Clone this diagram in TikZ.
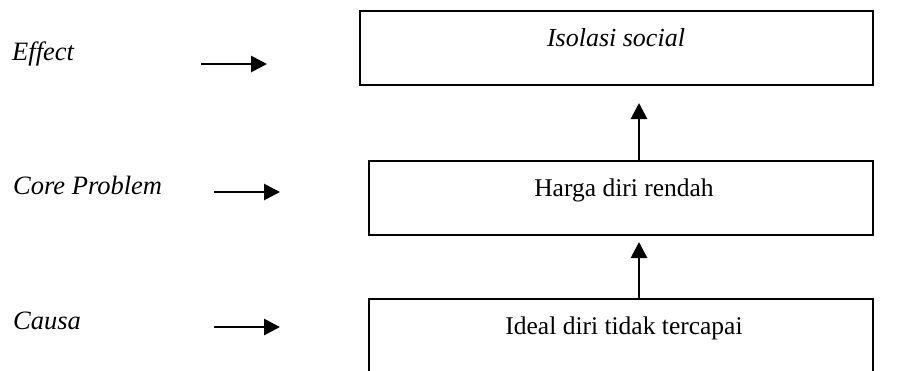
\documentclass[tikz,border=0pt]{standalone}
\usepackage{fontspec}
\setmainfont{Liberation Serif}
\usetikzlibrary{arrows.meta}
\begin{document}
\begin{tikzpicture}[x=1pt,y=-1pt,
  txt/.style={inner sep=0pt,anchor=base,font=\fontsize{25.5}{30}\selectfont},
  lbl/.style={inner sep=0pt,anchor=base west,font=\fontsize{26.5}{31}\selectfont\itshape},
  boxframe/.style={draw,line width=1.4pt},
  arr/.style={line width=2.8pt,-{Triangle[length=16pt,width=16pt]}}]
\useasboundingbox (0,0) rectangle (898,370);
% boxes
\node[boxframe,minimum width=513pt,minimum height=74pt,inner sep=0pt] (top) at (616.5,48) {};
\node[boxframe,minimum width=504pt,minimum height=74pt,inner sep=0pt] (mid) at (621,198) {};
\node[boxframe,minimum width=504pt,minimum height=80pt,inner sep=0pt] (bot) at (621,339) {};
% box texts
\node[txt,font=\fontsize{26}{31}\selectfont\itshape] (ttop) at (616,46) {Isolasi social};
\node[txt] (tmid) at (624,196) {Harga diri rendah};
\node[txt] (tbot) at (624,334) {Ideal diri tidak tercapai};
% left labels
\node[lbl] (effect) at (12,60) {Effect};
\node[lbl] (core) at (13,194) {Core Problem};
\node[lbl] (causa) at (13,329) {Causa};
% left arrows
\coordinate (e1) at (201,64); \coordinate (e2) at (267,64);
\coordinate (c1) at (214,192); \coordinate (c2) at (280,192);
\coordinate (a1) at (214,327); \coordinate (a2) at (280,327);
\draw[arr] (e1) -- (e2);
\draw[arr] (c1) -- (c2);
\draw[arr] (a1) -- (a2);
% vertical arrows
\draw[arr] (mid.north -| 639,0) -- (639,103);
\draw[arr] (bot.north -| 639,0) -- (639,242);
\end{tikzpicture}
\end{document}
